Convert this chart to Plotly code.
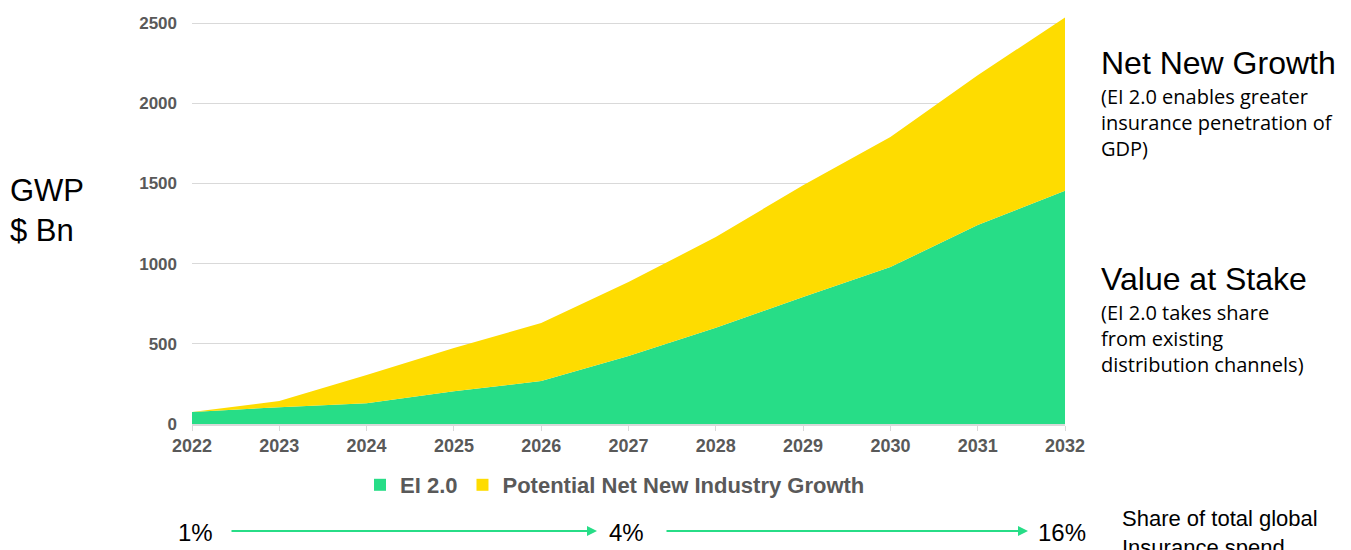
import plotly.graph_objects as go

years = [2022, 2023, 2024, 2025, 2026, 2027, 2028, 2029, 2030, 2031, 2032]
ei_values = [75, 105, 130, 205, 268, 424, 600, 792, 979, 1241, 1455]
net_new_values = [0, 38, 175, 269, 362, 461, 566, 698, 812, 935, 1080]
series_names = ["EI 2.0", "Potential Net New Industry Growth"]
y_ticks = [0, 500, 1000, 1500, 2000, 2500]
share_labels = ["1%", "4%", "16%"]

GREEN = "#27DD87"
YELLOW = "#FEDC00"
GRAY = "#595959"

fig = go.Figure()
for vals, name, col in [(ei_values, series_names[0], GREEN), (net_new_values, series_names[1], YELLOW)]:
    fig.add_trace(go.Scatter(
        x=years, y=vals, name=name, stackgroup="one", mode="none",
        fillcolor=col, line=dict(width=0), showlegend=False,
    ))
    fig.add_trace(go.Scatter(
        x=[None], y=[None], name=name, mode="markers",
        marker=dict(symbol="square", size=12, color=col), showlegend=True,
    ))

OFF = 8  # page offset of the figure
W, H = 1351 - OFF, 550 - OFF
# plot area in page pixels: x 192..1065, y 12..424
PL, PR, PT, PB = 192, 1065, 12, 424
def px(x):
    return (x - PL) / (PR - PL)
def py(y):
    return (PB - y) / (PB - PT)

ann = []
ann.append(dict(x=px(8), y=py(210), xref="paper", yref="paper", xanchor="left", yanchor="middle",
                text="GWP<br>$ Bn", showarrow=False, align="left",
                font=dict(family="Liberation Sans, Arial", size=31, color="#000000")))
ann.append(dict(x=px(1099), y=py(63), xref="paper", yref="paper", xanchor="left", yanchor="middle",
                text="Net New Growth", showarrow=False,
                font=dict(family="Liberation Sans, Arial", size=32, color="#000000")))
ann.append(dict(x=px(1099), y=py(81), xref="paper", yref="paper", xanchor="left", yanchor="top",
                text="(EI 2.0 enables greater<br>insurance penetration of<br>GDP)", showarrow=False, align="left",
                font=dict(family="Open Sans", size=20, color="#000000")))
ann.append(dict(x=px(1099), y=py(279), xref="paper", yref="paper", xanchor="left", yanchor="middle",
                text="Value at Stake", showarrow=False,
                font=dict(family="Liberation Sans, Arial", size=32, color="#000000")))
ann.append(dict(x=px(1099), y=py(297), xref="paper", yref="paper", xanchor="left", yanchor="top",
                text="(EI 2.0 takes share<br>from existing<br>distribution channels)", showarrow=False, align="left",
                font=dict(family="Open Sans", size=20, color="#000000")))

# share labels and arrows
for label, cx in zip(share_labels, [195, 626, 1062]):
    ann.append(dict(x=px(cx), y=py(532), xref="paper", yref="paper", xanchor="center", yanchor="middle",
                    text=label, showarrow=False,
                    font=dict(family="Liberation Sans, Arial", size=24, color="#000000")))
for tail, head in [(230, 597), (665, 1028)]:
    ann.append(dict(x=px(head), y=py(531), xref="paper", yref="paper", text="", showarrow=True,
                    ax=tail - head, ay=0, arrowhead=2, arrowsize=1, arrowwidth=2, arrowcolor=GREEN))
ann.append(dict(x=px(1120), y=py(504), xref="paper", yref="paper", xanchor="left", yanchor="top",
                text="Share of total global<br>Insurance spend", showarrow=False, align="left",
                font=dict(family="Liberation Sans, Arial", size=22, color="#000000")))

fig.update_layout(
    width=W, height=H,
    margin=dict(l=PL - OFF, r=1351 - PR, t=PT - OFF, b=550 - PB),
    paper_bgcolor="white", plot_bgcolor="white",
    annotations=ann,
    showlegend=True,
    legend=dict(orientation="h", x=px(615), xanchor="center", y=py(485), yanchor="middle",
                traceorder="normal",
                font=dict(family="Liberation Sans, Arial", size=22, color=GRAY, weight="bold"),
                itemwidth=30, tracegroupgap=0, bgcolor="rgba(0,0,0,0)"),
    xaxis=dict(range=[2022, 2032], tickvals=years, ticktext=[str(y) for y in years],
               showgrid=False, showline=True, linecolor="#d9d9d9", linewidth=1.5,
               ticks="outside", ticklen=5, tickcolor="#d9d9d9",
               tickfont=dict(family="Liberation Sans, Arial", size=18, color=GRAY, weight="bold"),
               zeroline=False, fixedrange=True),
    yaxis=dict(range=[0, 2570], tickvals=y_ticks, showgrid=True, gridcolor="#d9d9d9", gridwidth=1,
               zeroline=False, showline=False, ticks="", ticklabelstandoff=14,
               tickfont=dict(family="Liberation Sans, Arial", size=17, color=GRAY, weight="bold")),
)

fig.write_html("out.html")
